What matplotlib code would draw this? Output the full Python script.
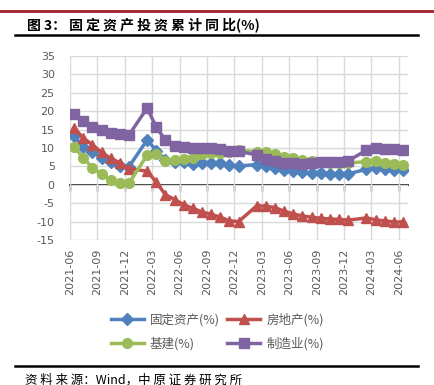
import matplotlib
matplotlib.use("Agg")
import matplotlib.pyplot as plt
from matplotlib.lines import Line2D

plt.rcParams['font.family'] = ['Noto Sans CJK SC', 'DejaVu Sans']
plt.rcParams['axes.unicode_minus'] = False

months = ["2021-06", "2021-07", "2021-08", "2021-09", "2021-10", "2021-11", "2021-12",
          "2022-02", "2022-03", "2022-04", "2022-05", "2022-06", "2022-07", "2022-08",
          "2022-09", "2022-10", "2022-11", "2022-12",
          "2023-02", "2023-03", "2023-04", "2023-05", "2023-06", "2023-07", "2023-08",
          "2023-09", "2023-10", "2023-11", "2023-12",
          "2024-02", "2024-03", "2024-04", "2024-05", "2024-06"]

fai = [13.2, 10.3, 8.9, 7.3, 6.1, 5.2, 4.9,
       12.2, 9.3, 6.8, 6.2, 6.1, 5.7, 5.8, 5.9, 5.8, 5.3, 5.1,
       5.5, 5.1, 4.7, 4.0, 3.8, 3.4, 3.2, 3.1, 2.9, 2.9, 3.0,
       4.2, 4.5, 4.2, 4.0, 3.9]
real_estate = [15.5, 12.7, 10.9, 8.8, 7.2, 6.0, 4.4,
               3.7, 0.7, -2.7, -4.0, -5.4, -6.4, -7.4, -8.0, -8.8, -9.8, -10.0,
               -5.7, -5.8, -6.2, -7.2, -7.9, -8.5, -8.8, -9.1, -9.3, -9.4, -9.6,
               -9.0, -9.5, -9.8, -10.1, -10.1]
infra = [10.2, 7.4, 4.6, 2.9, 1.3, 0.6, 0.4,
         8.1, 8.5, 6.5, 6.7, 7.1, 7.4, 8.3, 8.6, 8.7, 8.9, 9.4,
         9.0, 8.8, 8.5, 7.5, 7.2, 6.8, 6.4, 6.2, 5.9, 5.8, 5.9,
         6.3, 6.5, 6.0, 5.7, 5.4]
manufacturing = [19.2, 17.3, 15.7, 14.8, 14.2, 13.7, 13.5,
                 20.9, 15.6, 12.2, 10.6, 10.4, 9.9, 10.0, 10.1, 9.7, 9.3, 9.1,
                 8.1, 7.0, 6.4, 6.0, 6.0, 5.7, 5.9, 6.2, 6.2, 6.3, 6.5,
                 9.4, 9.9, 9.7, 9.6, 9.5]

tick_labels = ["2021-06", "2021-09", "2021-12", "2022-03", "2022-06", "2022-09", "2022-12",
               "2023-03", "2023-06", "2023-09", "2023-12", "2024-03", "2024-06"]


def month_pos(s, shift=0.0):
    y, m = s.split("-")
    return (int(y) - 2021) * 12 + int(m) - 6 + shift


x = [month_pos(m, 0.45) for m in months]
xt = [month_pos(t) for t in tick_labels]

fig = plt.figure(figsize=(4.35, 3.85), dpi=100)
ax = fig.add_axes([70 / 435, 1 - 240 / 385, 338 / 435, 184 / 385])

series = [
    (fai, "固定资产(%)", "#4F81BD", "D", 6.0),
    (real_estate, "房地产(%)", "#C0504D", "^", 7.5),
    (infra, "基建(%)", "#9BBB59", "o", 7.0),
    (manufacturing, "制造业(%)", "#8064A2", "s", 7.0),
]
handles = {}
for vals, name, col, mk, ms in series:
    h, = ax.plot(x, vals, color=col, lw=2.5, marker=mk, ms=ms,
                 markeredgecolor=col, markerfacecolor=col, label=name, zorder=3)
    handles[name] = h

ax.set_xlim(0, 37)
ax.set_ylim(-15, 35)
ax.set_yticks(range(-15, 36, 5))
ax.set_xticks(xt)
ax.set_xticklabels(tick_labels, rotation=90, fontfamily="DejaVu Sans")
ax.tick_params(axis="x", length=0, pad=6, labelsize=8, labelcolor="#595959")
ax.tick_params(axis="y", length=0, pad=11, labelsize=8, labelcolor="#595959")
for lab in ax.get_yticklabels():
    lab.set_fontfamily("DejaVu Sans")
ax.grid(True, color="#D9D9D9", lw=1.0)
ax.set_axisbelow(True)
for sp in ax.spines.values():
    sp.set_visible(False)

# zero line with downward ticks
zero = ax.secondary_xaxis(0.3)
zero.set_xticks(xt)
zero.tick_params(length=4, width=1, color="black", labelbottom=False)
zero.spines["bottom"].set_color("black")
zero.spines["bottom"].set_linewidth(1.2)

order = ["固定资产(%)", "基建(%)", "房地产(%)", "制造业(%)"]
fig.legend([handles[k] for k in order], order, loc="center",
           bbox_to_anchor=(0.50, 1 - 332 / 385), ncol=2, frameon=False,
           fontsize=9, handlelength=2.6, handletextpad=0.5, columnspacing=0.6,
           labelspacing=0.85, labelcolor="#595959")

# header / footer decoration
fig.add_artist(Line2D([0, 1], [1 - 11 / 385] * 2, color="#A02228", lw=2.0))
fig.add_artist(Line2D([15 / 435, 418 / 435], [1 - 35 / 385] * 2, color="black", lw=1.8))
fig.add_artist(Line2D([15 / 435, 418 / 435], [1 - 366 / 385] * 2, color="black", lw=1.8))

fig.text(27 / 435, 1 - 25.5 / 385, "图 3： 固 定 资 产 投 资 累 计 同 比(%)",
         fontsize=10, fontweight="bold", va="center", ha="left")
fig.text(25 / 435, 1 - 380 / 385, "资 料 来 源：Wind，中 原 证 券 研 究 所",
         fontsize=9, va="center", ha="left")

fig.savefig("out.png", dpi=100)
